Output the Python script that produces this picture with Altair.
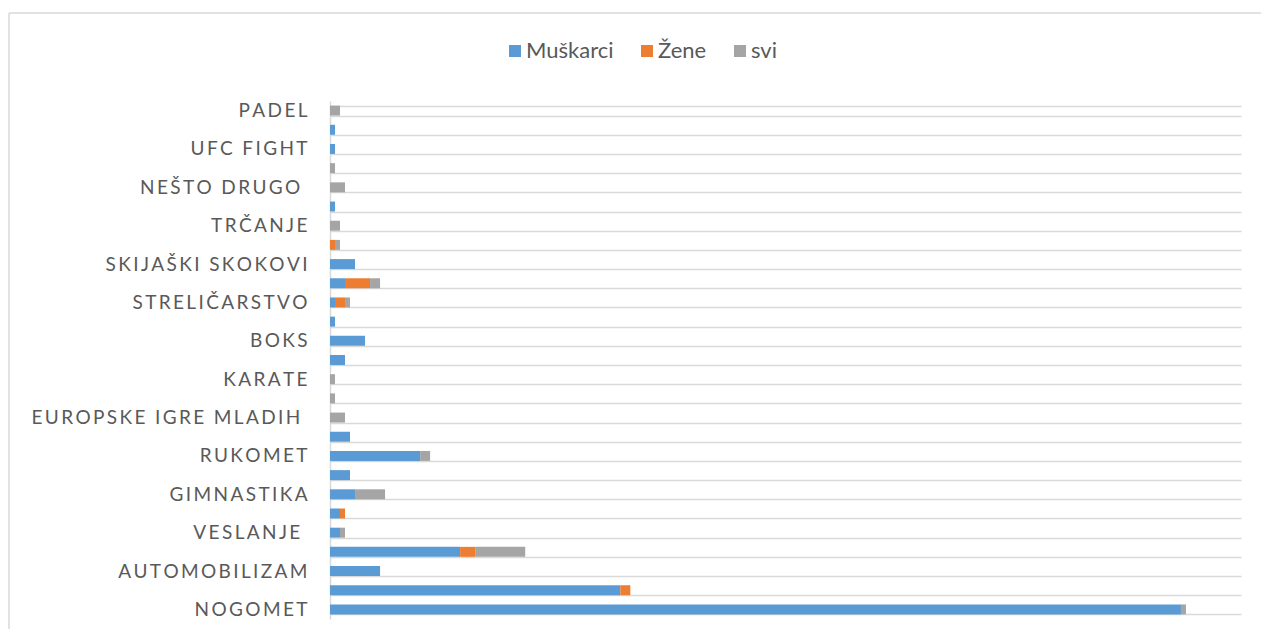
import altair as alt
import pandas as pd

# Categories, top to bottom as in the chart
sports = [
    "PADEL", "ŠAH", "UFC FIGHT", "STOLNI TENIS", "NEŠTO DRUGO ", "HOKEJ",
    "TRČANJE", "SKIJANJE", "SKIJAŠKI SKOKOVI", "ATLETIKA", "STRELIČARSTVO",
    "TAEKWONDO", "BOKS", "BICIKLIZAM", "KARATE", "JUDO",
    "EUROPSKE IGRE MLADIH ", "ODBOJKA", "RUKOMET", "VATERPOLO", "GIMNASTIKA",
    "PLIVANJE", "VESLANJE ", "TENIS", "AUTOMOBILIZAM", "KOŠARKA", "NOGOMET",
]
shown_labels = [
    "PADEL", "UFC FIGHT", "NEŠTO DRUGO ", "TRČANJE", "SKIJAŠKI SKOKOVI",
    "STRELIČARSTVO", "BOKS", "KARATE", "EUROPSKE IGRE MLADIH ", "RUKOMET",
    "GIMNASTIKA", "VESLANJE ", "AUTOMOBILIZAM", "NOGOMET",
]
muskarci = [0, 1, 1, 0, 0, 1, 0, 0, 5, 3, 1, 1, 7, 3, 0, 0, 0, 4, 18, 4, 5, 2, 2, 26, 10, 58, 170]
zene     = [0, 0, 0, 0, 0, 0, 0, 1, 0, 5, 2, 0, 0, 0, 0, 0, 0, 0, 0, 0, 0, 1, 0, 3, 0, 2, 0]
svi      = [2, 0, 0, 1, 3, 0, 2, 1, 0, 2, 1, 0, 0, 0, 1, 1, 3, 0, 2, 0, 6, 0, 1, 10, 0, 0, 1]

groups = ["Muškarci", "Žene", "svi"]
colors = ["#5B9BD5", "#ED7D31", "#A5A5A5"]

rows = []
for i, s in enumerate(sports):
    for k, (g, vals) in enumerate(zip(groups, [muskarci, zene, svi])):
        rows.append({"sport": s, "grupa": g, "vrijednost": vals[i], "ord": k})
df = pd.DataFrame(rows)

sep = "\u2009"
nbsp = "\u00a0"
zwsp = "\u200b"
arr = "[" + ",".join("'" + s + "'" for s in shown_labels) + "]"
label_expr = (
    f"indexof({arr}, datum.value) >= 0 ? "
    f"join(split(join(split(datum.value, ' '), '{nbsp}'), ''), '{sep}') + '{zwsp}' : ''"
)

bars = alt.Chart(df).mark_bar().encode(
    y=alt.Y(
        "sport:N", sort=sports,
        scale=alt.Scale(paddingInner=0.48, paddingOuter=0.24),
        axis=alt.Axis(
            title=None, labelExpr=label_expr, tickBand="extent", grid=True,
            gridColor="#d9d9d9", gridWidth=1.5, ticks=False,
            domainColor="#d9d9d9", domainWidth=1.5,
            labelFont="Lato", labelFontSize=19, labelColor="#595959",
            labelPadding=23, labelLimit=0,
        ),
    ),
    x=alt.X("vrijednost:Q", stack="zero",
            scale=alt.Scale(domain=[0, 182], nice=False), axis=None),
    color=alt.Color(
        "grupa:N", scale=alt.Scale(domain=groups, range=colors),
        legend=alt.Legend(
            title=None, orient="none", legendX=174, legendY=-61,
            direction="horizontal", symbolType="square", symbolSize=144,
            symbolStrokeWidth=0, labelFont="Lato", labelFontSize=22,
            labelColor="#595959", columnPadding=22, labelOffset=0,
        ),
    ),
    order=alt.Order("ord:Q"),
)

frame_df = pd.DataFrame({"a": [0]})
frame_left = alt.Chart(frame_df).mark_rule(color="#d9d9d9", strokeWidth=1.5).encode(
    x=alt.value(-321), y=alt.value(-88), y2=alt.value(560)
)
frame_top = alt.Chart(frame_df).mark_rule(color="#d9d9d9", strokeWidth=1.5).encode(
    x=alt.value(-321), x2=alt.value(960), y=alt.value(-88)
)

chart = alt.layer(bars, frame_left, frame_top).properties(
    width=911, height=518,
    autosize=alt.AutoSizeParams(type="none"),
    padding={"left": 322, "top": 93, "right": 20, "bottom": 10},
).configure_view(stroke=None)

chart.save("out.html", embed_options={"renderer": "svg", "actions": False})
